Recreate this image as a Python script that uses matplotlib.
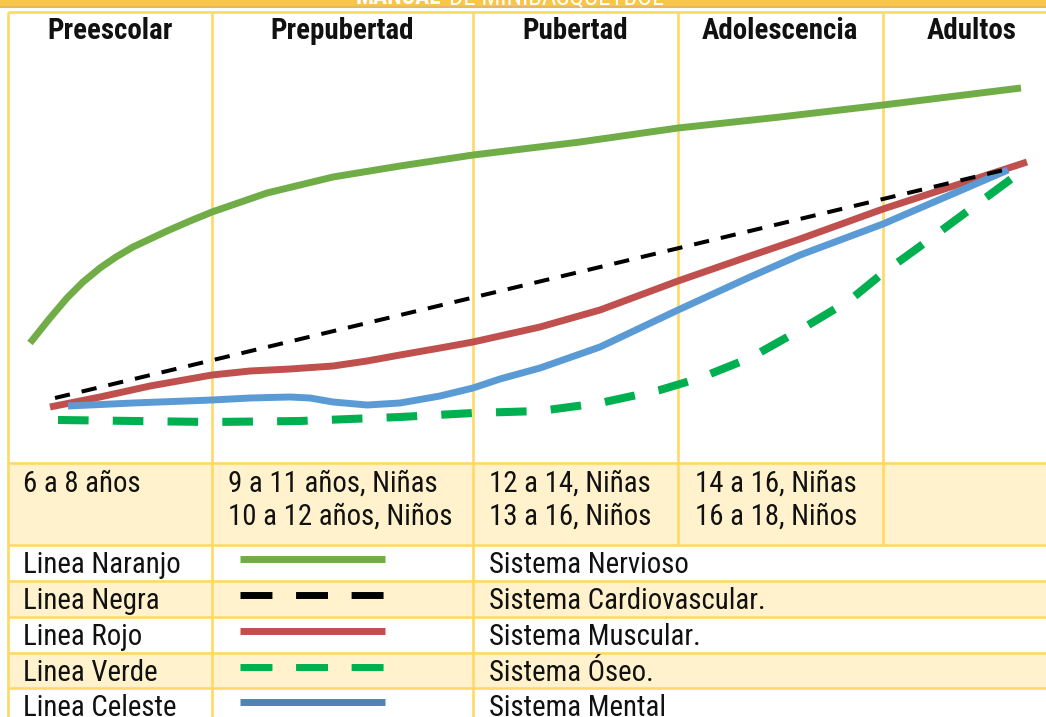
import matplotlib
matplotlib.use("Agg")
import matplotlib.pyplot as plt
from matplotlib import font_manager
from matplotlib.patches import Rectangle

# ---------------- data ----------------
stages = ["Preescolar", "Prepubertad", "Pubertad", "Adolescencia", "Adultos"]
age_ranges = ["6 a 8 años",
              "9 a 11 años, Niñas\n10 a 12 años, Niños",
              "12 a 14, Niñas\n13 a 16, Niños",
              "14 a 16, Niñas\n16 a 18, Niños",
              ""]
line_names = ["Linea Naranjo", "Linea Negra", "Linea Rojo", "Linea Verde", "Linea Celeste"]
system_names = ["Sistema Nervioso", "Sistema Cardiovascular.", "Sistema Muscular.",
                "Sistema Óseo.", "Sistema Mental"]

# curves: horizontal position along the chart and development level
nervioso_x = [30, 50, 67, 83, 100, 116, 133, 150, 167, 190, 212, 267, 333, 400, 473, 580, 678, 780, 883, 1021]
nervioso_y = [119, 144, 164, 180, 194, 205, 215, 223, 231, 241, 250, 269, 285, 296, 307, 320, 334, 345, 357, 374]

cardio_x = [55, 1012]
cardio_y = [64, 294]

muscular_x = [50, 100, 150, 212, 250, 290, 333, 367, 400, 440, 473, 540, 600, 678, 750, 800, 883, 1027]
muscular_y = [55, 65, 76, 87, 91, 93, 96, 101, 107, 114, 120, 135, 152, 181, 206, 223, 253, 300]

oseo_x = [58, 212, 300, 400, 473, 540, 600, 660, 700, 750, 800, 850, 883, 915, 1030]
oseo_y = [42, 40, 41, 45, 49, 51, 59, 72, 84, 104, 132, 162, 189, 212, 297]

mental_x = [68, 133, 212, 250, 290, 310, 333, 367, 400, 440, 473, 500, 540, 600, 678, 750, 800, 883, 1008]
mental_y = [56, 59, 62, 64, 65, 64, 60, 57, 59, 66, 74, 83, 94, 115, 152, 185, 207, 238, 292]

# ---------------- fonts ----------------
avail = {f.name for f in font_manager.fontManager.ttflist}
cands = ["Roboto Condensed", "Liberation Sans Narrow", "Roboto", "DejaVu Sans"]
FONT = [n for n in cands if n in avail] or ["DejaVu Sans"]

W, H = 1046, 717
GOLD = "#FFD966"
FILL = "#FFF2CC"
TXT = "#111111"
FS_BODY = 20.7
FS_HEAD = 20.9

fig = plt.figure(figsize=(W / 100, H / 100), dpi=100)
ax = fig.add_axes([0, 0, 1, 1])
ax.set_xlim(0, W)
ax.set_ylim(H, 0)
ax.axis("off")

# banner
banner = Rectangle((0, 0), W, 6, facecolor="#F8C64A", edgecolor="none", zorder=1)
ax.add_patch(banner)
ax.plot([0, W], [6.5, 6.5], color="#E2AC3C", lw=1.2, zorder=2)
t1 = ax.text(441, 4.5, "MANUAL", ha="right", va="baseline", color="white",
             fontsize=17, fontweight="bold", family=FONT, fontstretch="condensed", zorder=3)
t2 = ax.text(449, 4.5, "DE MINIBASQUETBOL", ha="left", va="baseline", color="white",
             fontsize=18, family=FONT, fontstretch="condensed", zorder=3)
t1.set_clip_path(banner)
t2.set_clip_path(banner)

# fills
L = 8
ax.add_patch(Rectangle((L, 463), W - L, 82, facecolor=FILL, edgecolor="none", zorder=1))
row_tops = [545, 581, 617, 653, 688]
row_h = 36
for i, top in enumerate(row_tops):
    if i % 2 == 1:
        ax.add_patch(Rectangle((L, top), W - L, row_h, facecolor=FILL, edgecolor="none", zorder=1))

# grid lines
glw = 1.9
for y in [12, 463, 545, 581, 617, 653, 688]:
    ax.plot([L, W], [y, y], color=GOLD, lw=glw, zorder=2, solid_capstyle="butt")
for x in [8, 212, 473]:
    ax.plot([x, x], [12, H], color=GOLD, lw=glw, zorder=2, solid_capstyle="butt")
for x in [678, 883]:
    ax.plot([x, x], [12, 545], color=GOLD, lw=glw, zorder=2, solid_capstyle="butt")

# header texts
stage_cx = [110, 342, 575, 780, 972]
for s, cx in zip(stages, stage_cx):
    ax.text(cx, 39, s, ha="center", va="baseline", fontsize=FS_HEAD, fontweight="bold",
            color=TXT, family=FONT, fontstretch="condensed", zorder=4)

# age row
age_x = [23, 228, 489, 695, 899]
for a, x in zip(age_ranges, age_x):
    for j, line in enumerate(a.split("\n")):
        if line:
            ax.text(x, 492 + 33 * j, line, ha="left", va="baseline", fontsize=FS_BODY,
                    color=TXT, family=FONT, fontstretch="condensed", zorder=4)

# chart axes
cax = fig.add_axes([L / W, (H - 462) / H, (W - L) / W, (462 - 13) / H])
cax.set_xlim(L, W)
cax.set_ylim(0, 449)
cax.axis("off")
cax.patch.set_alpha(0)

C_NERV = "#70AD47"
C_RED = "#C0504D"
C_OSEO = "#00B050"
C_BLUE = "#5B9BD5"

cax.plot(nervioso_x, nervioso_y, color=C_NERV, lw=5.0, solid_capstyle="butt",
         solid_joinstyle="round", zorder=3)
cax.plot(oseo_x, oseo_y, color=C_OSEO, lw=5.8, linestyle=(0, (3.8, 3.0)),
         dash_capstyle="butt", zorder=3)
cax.plot(muscular_x, muscular_y, color=C_RED, lw=5.0, solid_capstyle="butt",
         solid_joinstyle="round", zorder=4)
cax.plot(mental_x, mental_y, color=C_BLUE, lw=5.0, solid_capstyle="butt",
         solid_joinstyle="round", zorder=5)
cax.plot(cardio_x, cardio_y, color="black", lw=2.9, linestyle=(0, (3.8, 3.0)),
         dash_capstyle="butt", zorder=6)

# legend table
legend_styles = [
    dict(color=C_NERV, lw=5.0, linestyle="-"),
    dict(color="black", lw=5.0, linestyle=(0, (4.6, 3.4))),
    dict(color=C_RED, lw=5.0, linestyle="-"),
    dict(color=C_OSEO, lw=5.0, linestyle=(0, (4.6, 3.4))),
    dict(color="#4F81BD", lw=5.0, linestyle="-"),
]
for i, (nm, sysn, st) in enumerate(zip(line_names, system_names, legend_styles)):
    top = row_tops[i]
    ax.text(23, top + 28, nm, ha="left", va="baseline", fontsize=FS_BODY, color=TXT,
            family=FONT, fontstretch="condensed", zorder=4)
    ax.text(489, top + 28, sysn, ha="left", va="baseline", fontsize=FS_BODY, color=TXT,
            family=FONT, fontstretch="condensed", zorder=4)
    yc = top + 14
    ax.plot([240, 385], [yc, yc], solid_capstyle="butt", dash_capstyle="butt", zorder=4, **st)

fig.savefig("out.png", dpi=100)
